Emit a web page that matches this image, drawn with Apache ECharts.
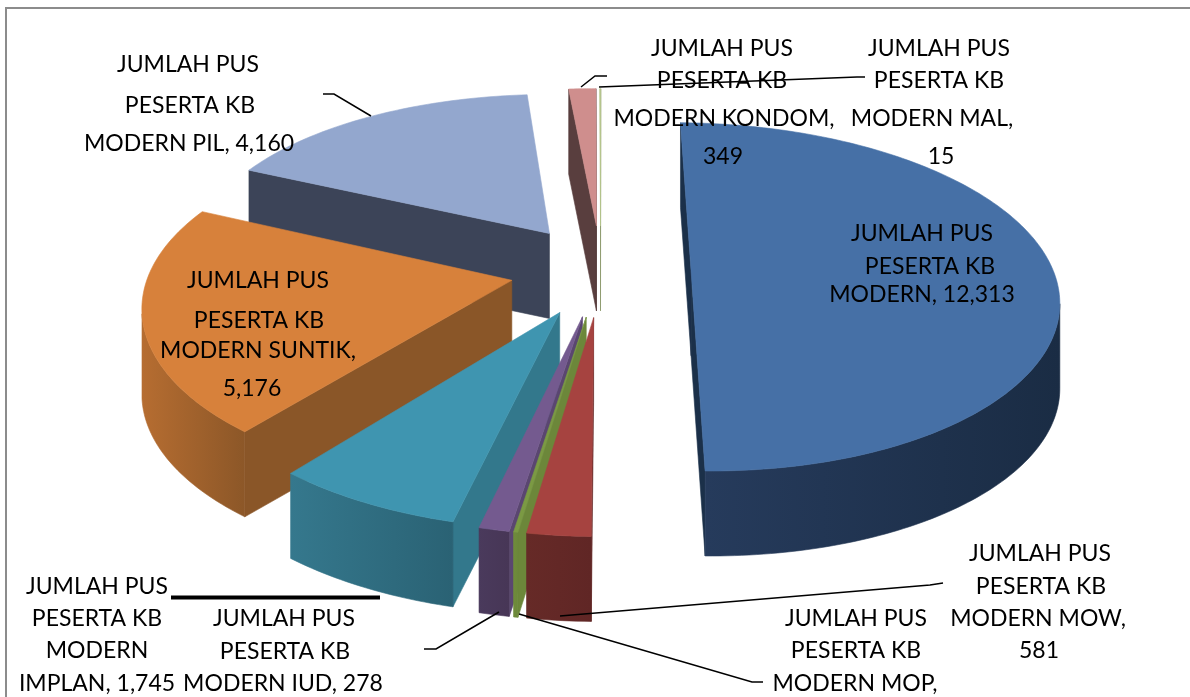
<!DOCTYPE html>
<html>
<head>
<meta charset="utf-8">
<title>PUS peserta KB modern</title>
<style>
html, body { margin: 0; padding: 0; background: #fff; }
#main { width: 1190px; height: 697px; }
</style>
<script src="https://cdn.jsdelivr.net/npm/echarts@6/dist/echarts.min.js"></script>
</head>
<body>
<div id="main"></div>
<script>
// clockwise from 12 o'clock, same order as the excel sheet
var sliceNames = ['MODERN', 'MOW', 'MOP', 'IUD', 'IMPLAN', 'SUNTIK', 'PIL', 'KONDOM', 'MAL'];
var sliceValues = [12313, 581, 40, 278, 1745, 5176, 4160, 349, 15];

var topColors = ['#4670a6', '#a64340', '#7b9a43', '#745a8f', '#3f95b0', '#d7813b', '#93a7ce', '#cf8e8d', '#b9c98f'];
var wallColors = ['#1b3049', '#642826', '#6c873a', '#5a4670', '#33788c', '#8a5628', '#3c4458', '#593e3e', '#7b8a55'];
var sideLeft = ['#263b5c', '#662a27', '#6f8c3b', '#4a3a5c', '#35788d', '#b66d31', '#3c4458', '#593e3e', '#7b8a55'];
var sideRight = ['#1a2c44', '#602625', '#6c873a', '#473656', '#2a6274', '#8c5728', '#3c4458', '#593e3e', '#7b8a55'];

var labelLines = [
    ['JUMLAH PUS', 'PESERTA KB', 'MODERN, ' + fmt(12313)],
    ['JUMLAH PUS', 'PESERTA KB', 'MODERN MOW,', fmt(581)],
    ['JUMLAH PUS', 'PESERTA KB', 'MODERN MOP,'],
    ['JUMLAH PUS', 'PESERTA KB', 'MODERN IUD, ' + fmt(278)],
    ['JUMLAH PUS', 'PESERTA KB', 'MODERN', 'IMPLAN, ' + fmt(1745)],
    ['JUMLAH PUS', 'PESERTA KB', 'MODERN SUNTIK,', fmt(5176)],
    ['JUMLAH PUS', 'PESERTA KB', 'MODERN PIL, ' + fmt(4160)],
    ['JUMLAH PUS', 'PESERTA KB', 'MODERN KONDOM,', fmt(349)],
    ['JUMLAH PUS', 'PESERTA KB', 'MODERN MAL,', fmt(15)]
];
var labelCenterX = [
    [922, 930, 922],
    [1040, 1041, 1038, 1039],
    [856, 856, 855],
    [284, 285, 283],
    [97, 97, 97, 97],
    [258, 259, 258, 252],
    [188, 190, 189],
    [722, 722, 724, 723],
    [939, 939, 932, 941]
];
var labelY = [
    [234, 267, 295],
    [554, 587, 619, 651],
    [619, 651, 684],
    [619, 652, 684],
    [587, 619, 651, 684],
    [281, 321, 351, 389],
    [65, 106, 144],
    [49, 81, 119, 157],
    [49, 81, 119, 157]
];
var leaderLines = [
    [[323, 94], [334, 94], [371, 116]],
    [[581, 87], [595, 76], [607, 76]],
    [[599, 87], [857, 77], [865, 77]],
    [[560, 616], [930, 585], [943, 583]],
    [[519, 614], [752, 682], [763, 682]],
    [[499, 612], [436, 649], [424, 649]]
];

function fmt(v) {
    return v.toLocaleString('en-US');
}

// fake 3d: the pie lies in a plane (u to the right, v towards the viewer)
var view = { cx: 600.5, cy: 270, a: 362, b: 170, k: 0.15, kx: 0.14, skew: 5, depth: 85, explodeU: 0.25, explodeV: 0.27, start: 1 };
var total = sliceValues.reduce(function (s, v) { return s + v; }, 0);

function rad(d) {
    return d * Math.PI / 180;
}

function project(u, v, z) {
    return [
        view.cx + view.skew * v + view.a * u / (1 - view.kx * v),
        view.cy + view.b * v / (1 - view.k * v) + view.depth * z
    ];
}

// does a face at (u, v) with outward normal (nu, nv) look at the camera
function facing(u, v, nu, nv) {
    return nu * (0 - u) + nv * (1 / view.k - v) > 0;
}

function renderSlice(params, api) {
    var i = params.dataIndex;
    var before = 0;
    for (var n = 0; n < i; n++) {
        before += sliceValues[n];
    }
    var a0 = view.start + before / total * 360;
    var a1 = a0 + api.value(0) / total * 360;
    var mid = (a0 + a1) / 2;
    var ou = view.explodeU * Math.sin(rad(mid));
    var ov = -view.explodeV * Math.cos(rad(mid));
    var base = Math.round(-Math.cos(rad(mid)) * 1000) * 10;
    var children = [];

    function rim(a) {
        return [ou + Math.sin(rad(a)), ov - Math.cos(rad(a))];
    }

    function face(points, fill, order) {
        children.push({
            type: 'polygon',
            z2: base + order,
            shape: { points: points },
            style: { fill: fill, stroke: fill, lineWidth: 0.6 }
        });
    }

    // radial walls
    var startP = rim(a0);
    var endP = rim(a1);
    if (facing(ou, ov, Math.sin(rad(a0 - 90)), -Math.cos(rad(a0 - 90)))) {
        face([project(ou, ov, 0), project(startP[0], startP[1], 0),
            project(startP[0], startP[1], 1), project(ou, ov, 1)], wallColors[i], 1);
    }
    if (facing(ou, ov, Math.sin(rad(a1 + 90)), -Math.cos(rad(a1 + 90)))) {
        face([project(ou, ov, 0), project(endP[0], endP[1], 0),
            project(endP[0], endP[1], 1), project(ou, ov, 1)], wallColors[i], 1);
    }

    // rim and outer side
    var topPts = [project(ou, ov, 0)];
    var upper = [];
    var lower = [];
    var steps = Math.max(2, Math.ceil(a1 - a0));
    for (var s = 0; s <= steps; s++) {
        var a = a0 + (a1 - a0) * s / steps;
        var p = rim(a);
        topPts.push(project(p[0], p[1], 0));
        if (facing(p[0], p[1], Math.sin(rad(a)), -Math.cos(rad(a)))) {
            upper.push(project(p[0], p[1], 0));
            lower.unshift(project(p[0], p[1], 1));
        }
    }
    if (upper.length > 1) {
        face(upper.concat(lower), new echarts.graphic.LinearGradient(0, 0, 1, 0, [
            { offset: 0, color: sideLeft[i] },
            { offset: 1, color: sideRight[i] }
        ]), 2);
    }
    face(topPts, topColors[i], 3);

    return { type: 'group', children: children };
}

var graphics = [
    // chart frame
    { type: 'polyline', z: 1, silent: true, shape: { points: [[6, 697], [6, 8], [1190, 8]] },
        style: { fill: null, stroke: '#8c8c8c', lineWidth: 2 } },
    // the stray heavy rule above the IUD label
    { type: 'line', z: 20, silent: true, shape: { x1: 171, y1: 597.5, x2: 380, y2: 597.5 },
        style: { stroke: '#000', lineWidth: 4 } }
];

leaderLines.forEach(function (pts) {
    graphics.push({
        type: 'polyline', z: 20, silent: true, shape: { points: pts },
        style: { fill: null, stroke: '#000', lineWidth: 1.5 }
    });
});

labelLines.forEach(function (lines, i) {
    lines.forEach(function (txt, j) {
        graphics.push({
            type: 'text', z: 30, silent: true,
            x: labelCenterX[i][j], y: labelY[i][j],
            style: {
                text: txt, fill: '#000',
                font: '23px Lato, "Open Sans", sans-serif',
                textAlign: 'center', textVerticalAlign: 'middle'
            }
        });
    });
});

var myChart = echarts.init(document.getElementById('main'), null, { renderer: 'canvas' });
myChart.setOption({
    animation: false,
    backgroundColor: '#fff',
    tooltip: { show: false },
    graphic: graphics,
    series: [{
        type: 'custom',
        coordinateSystem: 'none',
        silent: true,
        z: 5,
        renderItem: renderSlice,
        data: sliceValues.map(function (v, i) { return { name: sliceNames[i], value: [v] }; })
    }]
});
</script>
</body>
</html>
